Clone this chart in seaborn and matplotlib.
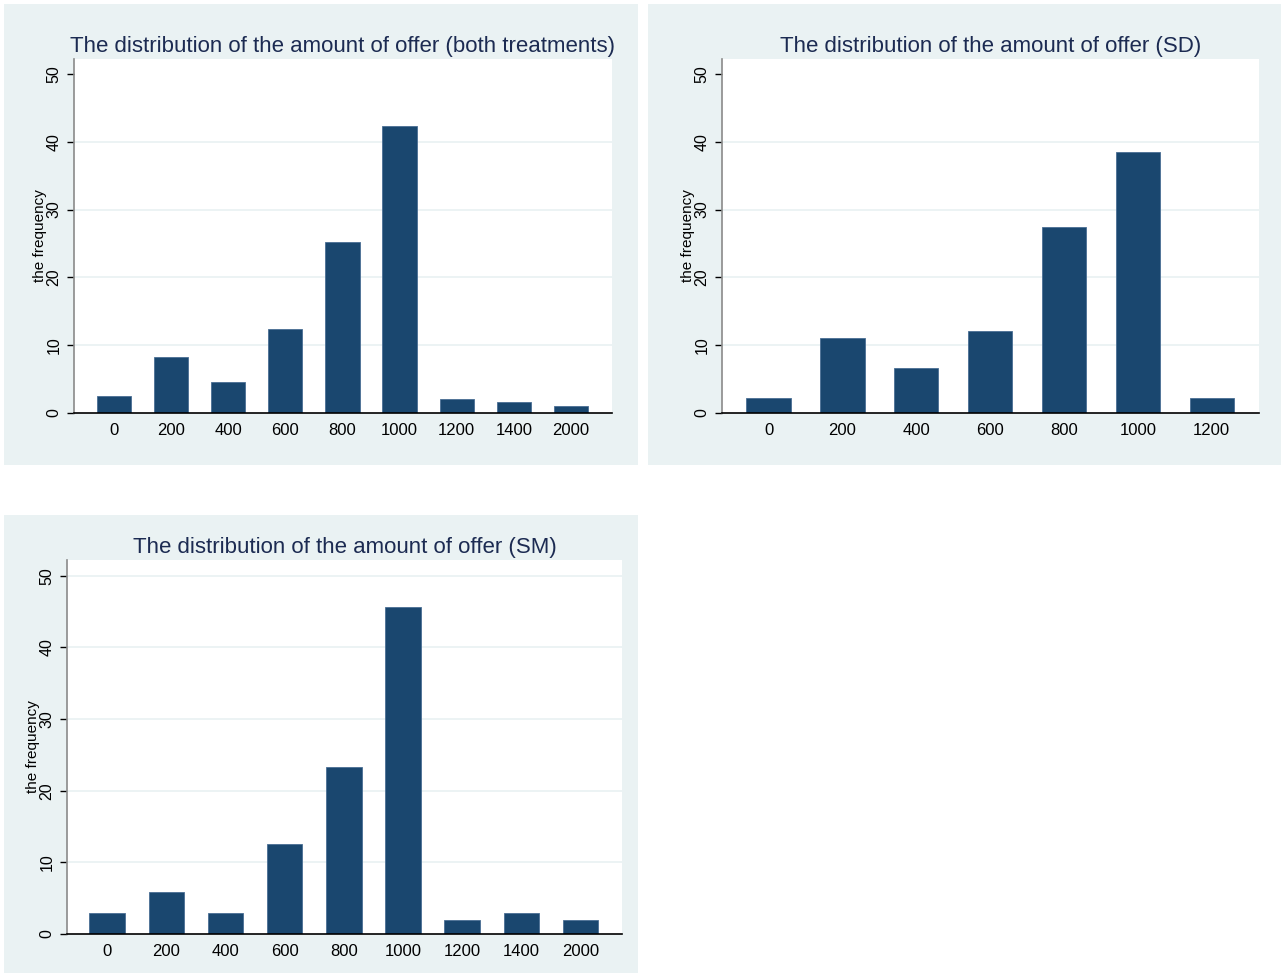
import matplotlib
matplotlib.use("Agg")
import matplotlib.pyplot as plt
from matplotlib.patches import Rectangle
import pandas as pd
import seaborn as sns

# Offer amounts (categories) and share of offers in percent
offers_all = ["0", "200", "400", "600", "800", "1000", "1200", "1400", "2000"]
pct_all = [2.58, 8.25, 4.64, 12.37, 25.26, 42.27, 2.06, 1.55, 1.03]

offers_sd = ["0", "200", "400", "600", "800", "1000", "1200"]
pct_sd = [2.20, 10.99, 6.59, 12.09, 27.47, 38.46, 2.20]

offers_sm = ["0", "200", "400", "600", "800", "1000", "1200", "1400", "2000"]
pct_sm = [2.91, 5.83, 2.91, 12.62, 23.30, 45.63, 1.94, 2.91, 1.94]

y_ticks = [0, 10, 20, 30, 40, 50]

sns.set_style("white")
plt.rcParams["font.family"] = ["Liberation Sans", "DejaVu Sans"]

BG = "#eaf2f3"
BAR = "#1a476f"
TITLE = "#1c2b52"

W, H = 1282, 974
fig = plt.figure(figsize=(W / 100, H / 100), dpi=100)
fig.patch.set_facecolor("white")


def fig_rect(l, t, r, b):
    return [l / W, 1 - b / H, (r - l) / W, (b - t) / H]


def panel_bg(l, t, r, b):
    fig.patches.append(Rectangle((l / W, 1 - b / H), (r - l) / W, (b - t) / H,
                                 transform=fig.transFigure, facecolor=BG,
                                 edgecolor="none", zorder=-10))


def draw_panel(box, bg, cats, vals, title, xlim, grid_top):
    panel_bg(*bg)
    ax = fig.add_axes(fig_rect(*box))
    ax.set_zorder(2)
    df = pd.DataFrame({"offer": cats, "pct": vals})
    sns.barplot(data=df, x="offer", y="pct", order=cats, color=BAR,
                saturation=1, width=0.6, edgecolor="#4a6e94", linewidth=0.6,
                ax=ax, zorder=3)
    ax.set_facecolor("white")
    ax.set_xlim(*xlim)
    ax.set_ylim(0, 52.2)
    ax.set_yticks(y_ticks)
    ax.set_yticklabels([str(v) for v in y_ticks])
    for v in y_ticks[1:]:
        if v <= grid_top:
            ax.axhline(v, color=BG, lw=1.3, zorder=1)
    for s in ["top", "right"]:
        ax.spines[s].set_visible(False)
    ax.spines["left"].set_color("#8a8a8a")
    ax.spines["left"].set_linewidth(1.2)
    ax.spines["bottom"].set_color("black")
    ax.spines["bottom"].set_linewidth(1.2)
    ax.spines["bottom"].set_zorder(5)
    ax.tick_params(axis="x", length=0, pad=7, labelsize=12, colors="black")
    ax.tick_params(axis="y", length=5, width=1, color="black", pad=4,
                   labelsize=11.5, labelcolor="black", left=True)
    for lab in ax.get_yticklabels():
        lab.set_rotation(90)
        lab.set_va("center")
        lab.set_ha("right")
    ax.set_xlabel("")
    ax.set_ylabel("the frequency", fontsize=11, color="black")
    width_px = box[2] - box[0]
    ax.yaxis.set_label_coords(-27 / width_px, 0.5)
    ax.set_title(title, fontsize=16, color=TITLE, pad=5)
    return ax


draw_panel((74, 59, 612, 413), (4, 4, 638, 465), offers_all, pct_all,
           "The distribution of the amount of offer (both treatments)",
           (-0.70, 8.72), 40)
draw_panel((722, 59, 1259, 413), (648, 4, 1281, 465), offers_sd, pct_sd,
           "The distribution of the amount of offer (SD)",
           (-0.63, 6.64), 40)
draw_panel((67, 560, 622, 934), (4, 515, 638, 973), offers_sm, pct_sm,
           "The distribution of the amount of offer (SM)",
           (-0.68, 8.70), 50)

fig.savefig("out.png", dpi=100, facecolor="white")
